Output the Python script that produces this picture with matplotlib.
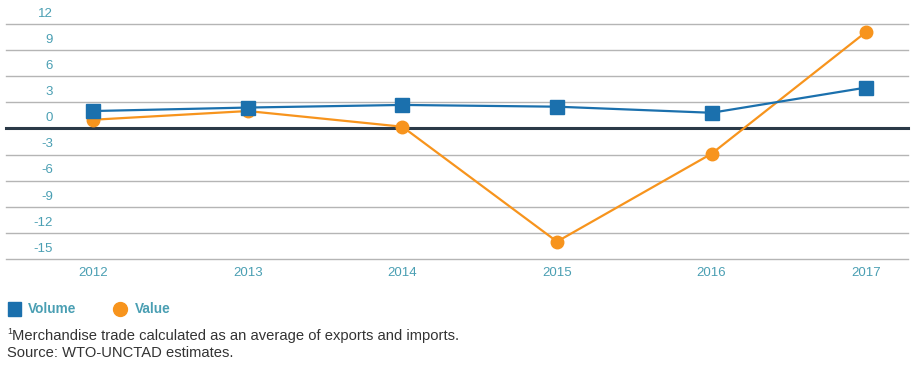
import matplotlib
matplotlib.use("Agg")
import matplotlib.pyplot as plt
from matplotlib.lines import Line2D

plt.rcParams['font.family'] = ['Liberation Sans', 'DejaVu Sans']

years = [2012, 2013, 2014, 2015, 2016, 2017]
volume = [2.0, 2.4, 2.7, 2.5, 1.8, 4.7]
value = [1.0, 2.0, 0.2, -13.0, -2.9, 11.1]
y_ticks = [12, 9, 6, 3, 0, -3, -6, -9, -12, -15]

BLUE = '#1b70ad'
ORANGE = '#f7941d'
TEAL = '#4a9fb3'
GRID = '#b5b5b5'
ZERO = '#2b3a48'

fig = plt.figure(figsize=(9.21, 3.68), dpi=100)
ax = fig.add_axes([6 / 921, 109 / 368, 902 / 921, 235 / 368])

for t in y_ticks:
    if t == 0:
        ax.axhline(t, color=ZERO, lw=2.2, zorder=1, clip_on=False)
    else:
        ax.axhline(t, color=GRID, lw=1.0, zorder=1, clip_on=False)
    ax.annotate(str(t), xy=(47 / 902, t), xycoords=('axes fraction', 'data'),
                xytext=(0, 3), textcoords='offset points',
                ha='right', va='bottom', fontsize=9.5, color=TEAL)

ax.plot(years, volume, color=BLUE, lw=1.6, marker='s', ms=10,
        mec=BLUE, mfc=BLUE, zorder=3, clip_on=False)
ax.plot(years, value, color=ORANGE, lw=1.6, marker='o', ms=9,
        mec=ORANGE, mfc=ORANGE, zorder=2, clip_on=False)

ax.set_xlim(2012 - 0.563, 2017.27)
ax.set_ylim(-15, 12)
ax.set_xticks(years)
ax.set_xticklabels([str(y) for y in years], color=TEAL, fontsize=9.5)
ax.tick_params(axis='x', length=0, pad=6)
ax.set_yticks([])
for s in ax.spines.values():
    s.set_visible(False)

# legend
fig.patches.append(plt.Rectangle((8 / 921, 1 - 316 / 368), 13 / 921, 14 / 368,
                                 transform=fig.transFigure, color=BLUE))
fig.text(28 / 921, 1 - 309 / 368, 'Volume', color=TEAL, fontsize=9.8,
         fontweight='bold', va='center')
fig.add_artist(Line2D([120 / 921], [1 - 309 / 368], marker='o', ms=10,
                      color=ORANGE, transform=fig.transFigure))
fig.text(135 / 921, 1 - 309 / 368, 'Value', color=TEAL, fontsize=9.8,
         fontweight='bold', va='center')

# footnotes
fig.text(7 / 921, 1 - 331 / 368, '1', color='#333333', fontsize=6.5, va='center')
fig.text(12 / 921, 1 - 336 / 368,
         'Merchandise trade calculated as an average of exports and imports.',
         color='#333333', fontsize=10.6, va='center')
fig.text(7 / 921, 1 - 353 / 368, 'Source: WTO-UNCTAD estimates.',
         color='#333333', fontsize=10.6, va='center')

fig.savefig('out.png', dpi=100)
